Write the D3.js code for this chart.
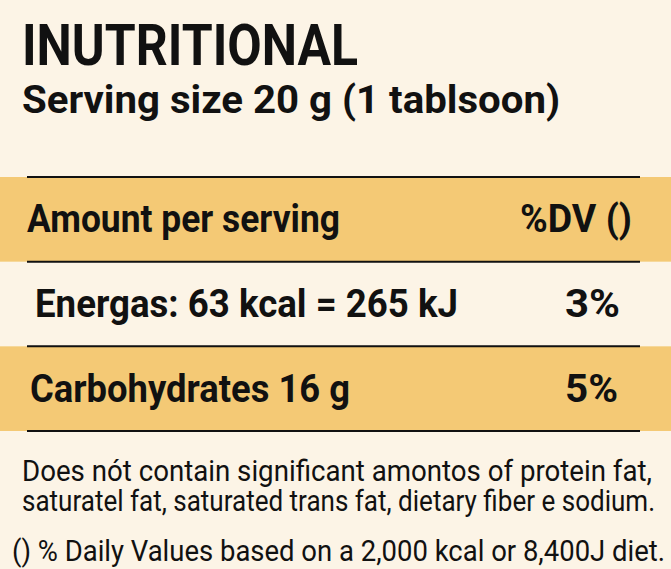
<!DOCTYPE html><html><head><meta charset="utf-8"><script src="https://cdn.jsdelivr.net/npm/d3@7"></script>
<style>body{margin:0;background:#fcf4e6}</style></head><body><svg id="c" width="671" height="569"></svg>
<script>
const title="INUTRITIONAL";
const serving="Serving size 20 g (1 tablsoon)";
const rowLabels=["Amount per serving","Energas: 63 kcal = 265 kJ","Carbohydrates 16 g"];
const rowValues=["%DV ()","3%","5%"];
const notes=["Does nót contain significant amontos of protein fat,","saturatel fat, saturated trans fat, dietary fiber e sodium.","() % Daily Values based on a 2,000 kcal or 8,400J diet."];
const svg=d3.select("#c");
svg.append("rect").attr("width",671).attr("height",569).attr("fill","#fcf4e6");
const y=d3.scaleBand().domain(d3.range(3)).range([177,431]).paddingInner(0);
const font="Roboto, 'Liberation Sans', sans-serif";
function T(t,x,yy,size,w,weight,anchor){return svg.append("text").text(t).attr("x",x).attr("y",yy).attr("font-size",size).attr("font-family",font).attr("font-weight",weight||700).attr("text-anchor",anchor||"start").attr("textLength",w).attr("lengthAdjust","spacingAndGlyphs").attr("fill","#111");}
svg.selectAll("rect.band").data([0,2]).join("rect").attr("x",0).attr("width",671).attr("y",d=>y(d)).attr("height",y.bandwidth()).attr("fill","#f4c975");
svg.selectAll("line").data([0,1,2,3]).join("line").attr("x1",27).attr("x2",640).attr("y1",d=>d<3?y(d):y(2)+y.bandwidth()).attr("y2",d=>d<3?y(d):y(2)+y.bandwidth()).attr("stroke","#111").attr("stroke-width",2);
T(title,22,65,58,336);
T(serving,22,113,39,538);
const lx=[27,35,30],lw=[313,423,320],vx=[520,565,565],vw=[112,55,53];
rowLabels.forEach((t,i)=>{const cy=y(i)+y.bandwidth()/2+13;T(t,lx[i],cy,39,lw[i]);T(rowValues[i],vx[i],cy,39,vw[i]);});
T(notes[0],22,481,30,630,400);
T(notes[1],22,511,30,633,400);
T(notes[2],12,561,30,653,400);
</script></body></html>
